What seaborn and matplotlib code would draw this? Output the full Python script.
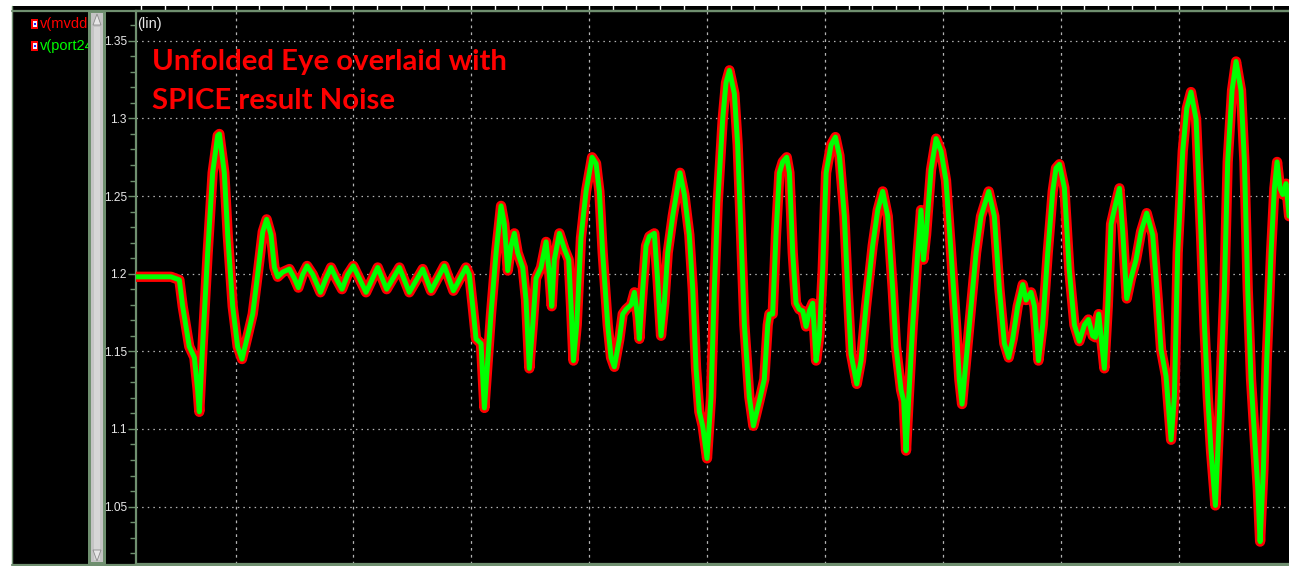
import matplotlib
matplotlib.use("Agg")
import matplotlib.pyplot as plt
from matplotlib.patches import Rectangle, Polygon
from matplotlib.lines import Line2D
from matplotlib.ticker import MultipleLocator, FixedLocator, FixedFormatter
import seaborn as sns

# ---- waveform samples (time in ns, voltage in V) ----
time_ns = [
    0.156, 0.453, 0.524, 0.552, 0.608, 0.651, 0.679, 0.693, 0.722, 0.764,
    0.806, 0.849, 0.863, 0.905, 0.934, 0.976, 1.018, 1.055, 1.103, 1.146,
    1.188, 1.231, 1.264, 1.301, 1.330, 1.358, 1.400, 1.457, 1.499, 1.533,
    1.570, 1.607, 1.655, 1.720, 1.768, 1.810, 1.853, 1.903, 1.952, 1.999,
    2.050, 2.107,
    2.206, 2.282, 2.390, 2.474, 2.588, 2.658, 2.771, 2.848, 2.955, 2.983,
    3.012, 3.040, 3.082, 3.111, 3.139, 3.167, 3.210, 3.252, 3.280, 3.309,
    3.337, 3.365, 3.393, 3.436, 3.464, 3.492, 3.521, 3.549, 3.591, 3.634,
    3.662, 3.682, 3.704, 3.747, 3.789, 3.826, 3.846, 3.866, 3.894, 3.930,
    3.973, 4.024,
    4.058, 4.086, 4.114, 4.157, 4.185, 4.213, 4.256, 4.284, 4.312, 4.355,
    4.383, 4.411, 4.425, 4.454, 4.482, 4.510, 4.552, 4.581, 4.609, 4.637,
    4.666, 4.708, 4.770, 4.807, 4.849, 4.878, 4.906, 4.934, 4.962, 4.999,
    5.033, 5.061, 5.090, 5.132, 5.160, 5.189, 5.231, 5.259, 5.288, 5.316,
    5.358, 5.392, 5.443, 5.485, 5.514, 5.528, 5.556, 5.584, 5.613, 5.641,
    5.675, 5.698, 5.726, 5.754, 5.782, 5.811, 5.839, 5.867, 5.895, 5.924,
    5.952, 5.980,
    6.009, 6.051, 6.088, 6.122, 6.164, 6.192, 6.221, 6.269, 6.305, 6.348,
    6.404, 6.447, 6.489, 6.532, 6.574, 6.602, 6.645, 6.667, 6.687, 6.710,
    6.744, 6.786, 6.814, 6.834, 6.857, 6.899, 6.942, 6.984, 7.026, 7.069,
    7.111, 7.139, 7.162, 7.196, 7.238, 7.281, 7.323, 7.388, 7.436, 7.479,
    7.521, 7.558, 7.592, 7.634, 7.677, 7.705, 7.747, 7.776, 7.810, 7.846,
    7.889, 7.931, 7.959,
    7.988, 8.030, 8.072, 8.115, 8.157, 8.200, 8.234, 8.270, 8.293, 8.321,
    8.369, 8.398, 8.426, 8.468, 8.497, 8.525, 8.559, 8.595, 8.638, 8.680,
    8.728, 8.779, 8.822, 8.850, 8.892, 8.935, 8.963, 8.991, 9.034, 9.068,
    9.104, 9.147, 9.189, 9.218, 9.246, 9.274, 9.294, 9.311, 9.345, 9.387,
    9.415, 9.452, 9.486, 9.528, 9.557, 9.585, 9.613, 9.642, 9.670, 9.690,
    9.718, 9.746, 9.783, 9.811, 9.834, 9.859, 9.882, 9.910, 9.936,
]

v_mvddc = [
    1.198, 1.198, 1.196, 1.179, 1.153, 1.146, 1.125, 1.111, 1.155, 1.2135,
    1.265, 1.289, 1.290, 1.265, 1.225, 1.179, 1.153, 1.145, 1.160, 1.174,
    1.1995, 1.227, 1.235, 1.225, 1.204, 1.198, 1.201, 1.203, 1.197, 1.191,
    1.1995, 1.205, 1.1995, 1.188, 1.197, 1.204, 1.197, 1.190, 1.1995, 1.205,
    1.197, 1.188,
    1.204, 1.190, 1.204, 1.188, 1.203, 1.189, 1.205, 1.189, 1.204, 1.1995,
    1.179, 1.158, 1.155, 1.1135, 1.144, 1.174, 1.2135, 1.2437, 1.232, 1.202,
    1.218, 1.226, 1.2135, 1.204, 1.183, 1.139, 1.167, 1.197, 1.204, 1.2205,
    1.1995, 1.179, 1.209, 1.226, 1.216, 1.209, 1.179, 1.144, 1.167, 1.223,
    1.253, 1.275,
    1.271, 1.253, 1.2135, 1.167, 1.146, 1.140, 1.158, 1.174, 1.177, 1.180,
    1.188, 1.172, 1.158, 1.190, 1.218, 1.224, 1.226, 1.195, 1.160, 1.181,
    1.2135, 1.237, 1.265, 1.251, 1.225, 1.190, 1.139, 1.111, 1.102, 1.081,
    1.1205, 1.190, 1.246, 1.2995, 1.323, 1.331, 1.316, 1.283, 1.225, 1.167,
    1.1205, 1.102, 1.118, 1.132, 1.167, 1.174, 1.174, 1.225, 1.265, 1.272,
    1.275, 1.265, 1.2135, 1.181, 1.177, 1.176, 1.166, 1.176, 1.181, 1.144,
    1.160, 1.202,
    1.265, 1.283, 1.288, 1.276, 1.237, 1.190, 1.148, 1.129, 1.144, 1.179,
    1.218, 1.241, 1.253, 1.237, 1.190, 1.153, 1.125, 1.118, 1.086, 1.1205,
    1.167, 1.2135, 1.241, 1.209, 1.225, 1.267, 1.287, 1.279, 1.260, 1.2135,
    1.167, 1.132, 1.116, 1.144, 1.179, 1.2135, 1.237, 1.253, 1.237, 1.190,
    1.155, 1.146, 1.158, 1.179, 1.193, 1.183, 1.188, 1.179, 1.144, 1.167,
    1.2135, 1.253, 1.268,
    1.2705, 1.2553, 1.202, 1.167, 1.1565, 1.167, 1.1705, 1.160, 1.159, 1.174,
    1.139, 1.179, 1.232, 1.246, 1.255, 1.227, 1.184, 1.197, 1.209, 1.227,
    1.239, 1.225, 1.183, 1.151, 1.134, 1.093, 1.1205, 1.2135, 1.279, 1.3065,
    1.317, 1.2995, 1.225, 1.167, 1.1205, 1.0856, 1.067, 1.0507, 1.109, 1.190,
    1.272, 1.318, 1.3367, 1.318, 1.272, 1.190, 1.132, 1.097, 1.0623, 1.0274,
    1.074, 1.144, 1.2135, 1.255, 1.272, 1.255, 1.251, 1.258, 1.237,
]
# the unfolded-eye trace lies exactly on top of the SPICE trace
v_port24 = list(v_mvddc)

ytick_values = [1.05, 1.10, 1.15, 1.20, 1.25, 1.30, 1.35]
ytick_labels = ["1.05", "1.1", "1.15", "1.2", "1.25", "1.3", "1.35"]
trace_names = ["v(mvddc", "v(port24"]
trace_colors = ["#ff0000", "#00ff00"]
title_lines = ["Unfolded Eye overlaid with", "SPICE result Noise"]

sns.set_theme(style="dark")
plt.rcParams["font.family"] = ["Liberation Sans", "DejaVu Sans"]

W, H = 1289, 566
FRAME = "#6f8f6f"
LABEL = "#e8e8e8"
fig = plt.figure(figsize=(W / 100, H / 100), dpi=100, facecolor="black")


def fx(px):
    return px / W


def fy(py):
    return 1 - py / H


ax = fig.add_axes([fx(136), fy(564), (W - 136) / W, (564 - 11) / H])
ax.set_facecolor("black")

line_kw = dict(estimator=None, sort=False, legend=False,
               solid_joinstyle="round", solid_capstyle="round")
sns.lineplot(x=time_ns, y=v_mvddc, ax=ax, color=trace_colors[0], linewidth=7.4,
             zorder=3, **line_kw)
sns.lineplot(x=time_ns, y=v_port24, ax=ax, color=trace_colors[1], linewidth=3.6,
             zorder=4, **line_kw)

ax.set_xlim(0.156, 9.935)
ax.set_ylim(1.0130, 1.3692)
ax.set_xlabel("")
ax.set_ylabel("")

ax.yaxis.set_major_locator(FixedLocator(ytick_values))
ax.yaxis.set_major_formatter(FixedFormatter(ytick_labels))
ax.yaxis.set_minor_locator(MultipleLocator(0.01))
ax.xaxis.set_major_locator(MultipleLocator(1.0))
ax.xaxis.set_minor_locator(MultipleLocator(0.2))

ax.tick_params(axis="y", which="major", left=True, direction="out", length=6,
               width=1, color=FRAME, labelcolor=LABEL, labelsize=8.6, pad=0.5)
ax.tick_params(axis="y", which="minor", left=True, direction="out", length=4,
               width=1, color=FRAME)
ax.tick_params(axis="x", which="both", top=True, bottom=False, labeltop=False,
               labelbottom=False, direction="out", length=5, width=1,
               color="white")

ax.set_axisbelow(True)
ax.grid(False)
ax.grid(True, which="major", axis="y", color="#b4b4b4",
        linestyle=(0, (1.2, 3.3)), linewidth=0.9)
ax.grid(True, which="major", axis="x", color="#b4b4b4",
        linestyle=(0, (2.2, 3.3)), linewidth=0.9)

for side in ["left", "top", "bottom"]:
    ax.spines[side].set_visible(True)
    ax.spines[side].set_color(FRAME)
    ax.spines[side].set_linewidth(1.6)
ax.spines["right"].set_visible(False)

# window chrome: white margins and frame lines
fig.patches.append(Rectangle((0, fy(6)), 1, 6 / H, transform=fig.transFigure,
                             facecolor="white", edgecolor="none", zorder=1))
fig.patches.append(Rectangle((0, 0), fx(12), 1, transform=fig.transFigure,
                             facecolor="white", edgecolor="none", zorder=1))
fig.lines.append(Line2D([fx(12), 1], [fy(11), fy(11)], transform=fig.transFigure,
                        color=FRAME, linewidth=1.6, zorder=2))
fig.lines.append(Line2D([fx(12), 1], [fy(564.5), fy(564.5)], transform=fig.transFigure,
                        color=FRAME, linewidth=1.6, zorder=2))
fig.lines.append(Line2D([fx(12.5), fx(12.5)], [fy(564), fy(6)], transform=fig.transFigure,
                        color=FRAME, linewidth=1.0, zorder=2))

# legend entries
for i, (name, col) in enumerate(zip(trace_names, trace_colors)):
    yc = 24 + 22 * i
    fig.patches.append(Rectangle((fx(31), fy(yc + 5)), 7 / W, 10 / H,
                                 transform=fig.transFigure, facecolor="#ff0000",
                                 edgecolor="none", zorder=3))
    fig.patches.append(Rectangle((fx(32.5), fy(yc + 3)), 4 / W, 6 / H,
                                 transform=fig.transFigure, facecolor="#f0f0ff",
                                 edgecolor="none", zorder=4))
    fig.patches.append(Rectangle((fx(33.5), fy(yc + 1)), 2 / W, 2 / H,
                                 transform=fig.transFigure, facecolor="#2020ff",
                                 edgecolor="none", zorder=5))
    fig.text(fx(40), fy(yc), name, color=col, fontsize=10.5, ha="left",
             va="center", zorder=3)

# scrollbar
fig.patches.append(Rectangle((fx(88), fy(564)), 18 / W, (564 - 11) / H,
                             transform=fig.transFigure, facecolor=FRAME,
                             edgecolor="none", zorder=6))
fig.patches.append(Rectangle((fx(91), fy(562)), 12 / W, (562 - 13) / H,
                             transform=fig.transFigure, facecolor="#c4c4c4",
                             edgecolor="none", zorder=7))
fig.patches.append(Rectangle((fx(94), fy(560)), 6 / W, (560 - 27) / H,
                             transform=fig.transFigure, facecolor="#d6d6d6",
                             edgecolor="none", zorder=8))
fig.patches.append(Polygon([(fx(93), fy(25)), (fx(101), fy(25)), (fx(97), fy(14))],
                           closed=True, transform=fig.transFigure,
                           facecolor="#e6e6e6", edgecolor="#8a8a8a",
                           linewidth=0.6, zorder=9))
fig.patches.append(Polygon([(fx(93), fy(550)), (fx(101), fy(550)), (fx(97), fy(561))],
                           closed=True, transform=fig.transFigure,
                           facecolor="#e6e6e6", edgecolor="#8a8a8a",
                           linewidth=0.6, zorder=9))

fig.text(fx(137), fy(24), "(lin)", color=LABEL, fontsize=10.5,
         ha="left", va="center")

# annotation
for i, line in enumerate(title_lines):
    fig.text(fx(152), fy(70 + 39 * i), line, color="#ff0000", fontsize=21.2,
             fontweight="bold", family=["Lato", "DejaVu Sans"],
             ha="left", va="baseline", zorder=10)

fig.savefig("out.png", dpi=100, facecolor="black")
